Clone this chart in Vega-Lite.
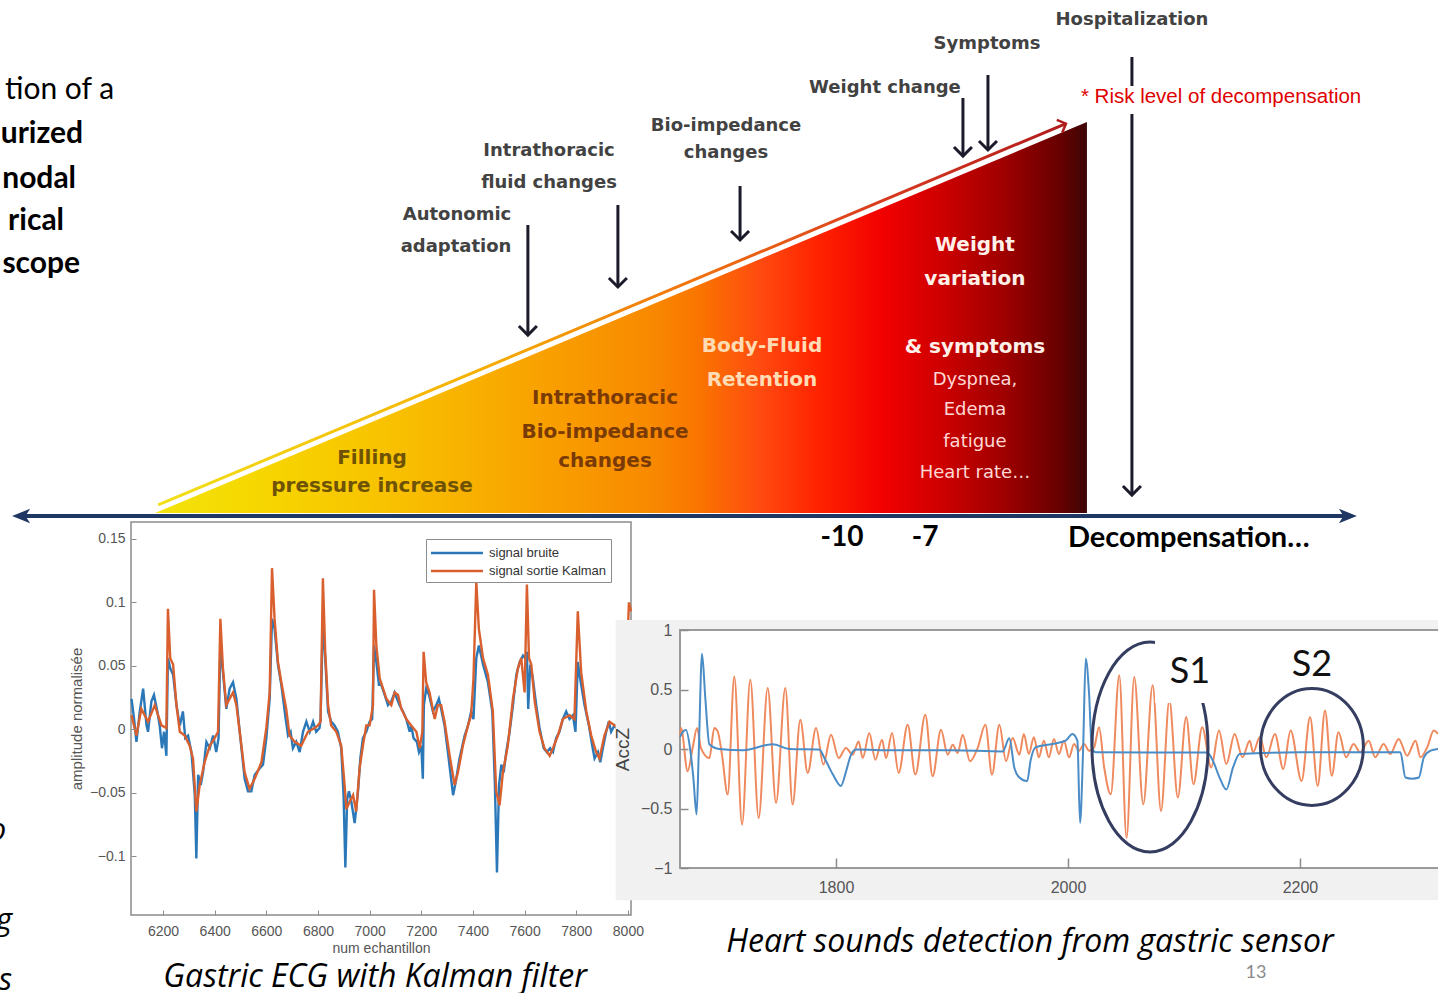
{
  "$schema": "https://vega.github.io/schema/vega-lite/v6.json",
  "width": 1438,
  "height": 993,
  "autosize": "none",
  "padding": 0,
  "background": "white",
  "datasets": {
    "labels": [
      {"kind": "event", "text": "Hospitalization", "day": 0.469, "risk": 1.261},
      {"kind": "event", "text": "Symptoms", "day": -4.765, "risk": 1.1995},
      {"kind": "event", "text": "Weight change", "day": -8.448, "risk": 1.087},
      {"kind": "event", "text": "Bio-impedance", "day": -14.188, "risk": 0.99},
      {"kind": "event", "text": "changes", "day": -14.188, "risk": 0.921},
      {"kind": "event", "text": "Intrathoracic", "day": -20.578, "risk": 0.926},
      {"kind": "event", "text": "fluid changes", "day": -20.578, "risk": 0.844},
      {"kind": "event", "text": "Autonomic", "day": -23.899, "risk": 0.762},
      {"kind": "event", "text": "adaptation", "day": -23.935, "risk": 0.68},
      {"kind": "risk", "text": "* Risk level of decompensation", "day": -1.372, "risk": 1.064},
      {"kind": "stage_yellow", "text": "Filling", "day": -26.968, "risk": 0.141},
      {"kind": "stage_yellow", "text": "pressure  increase", "day": -26.968, "risk": 0.069},
      {"kind": "stage_orange", "text": "Intrathoracic", "day": -18.556, "risk": 0.294},
      {"kind": "stage_orange", "text": "Bio-impedance", "day": -18.556, "risk": 0.207},
      {"kind": "stage_orange", "text": "changes", "day": -18.556, "risk": 0.133},
      {"kind": "stage_fluid", "text": "Body-Fluid", "day": -12.888, "risk": 0.427},
      {"kind": "stage_fluid", "text": "Retention", "day": -12.888, "risk": 0.34},
      {"kind": "stage_late", "text": "Weight", "day": -5.199, "risk": 0.685},
      {"kind": "stage_late", "text": "variation", "day": -5.199, "risk": 0.599},
      {"kind": "stage_late", "text": "& symptoms", "day": -5.199, "risk": 0.425},
      {"kind": "symptom", "text": "Dyspnea,", "day": -5.199, "risk": 0.34},
      {"kind": "symptom", "text": "Edema", "day": -5.199, "risk": 0.263},
      {"kind": "symptom", "text": "fatigue", "day": -5.199, "risk": 0.182},
      {"kind": "symptom", "text": "Heart rate…", "day": -5.199, "risk": 0.102},
      {"kind": "day", "text": "-10", "day": -10, "risk": -0.064},
      {"kind": "day", "text": "-7", "day": -7, "risk": -0.064},
      {"kind": "endpoint", "text": "Decompensation…", "day": -1.841, "risk": -0.064},
      {"kind": "slide_normal", "text": "tion of a", "day": -36.282, "risk": 1.0588},
      {"kind": "slide_bold", "text": "urized", "day": -37.401, "risk": 0.9463},
      {"kind": "slide_bold", "text": "nodal", "day": -37.653, "risk": 0.8312},
      {"kind": "slide_bold", "text": "rical", "day": -38.087, "risk": 0.7238},
      {"kind": "slide_bold", "text": "scope", "day": -37.509, "risk": 0.6138},
      {"kind": "frag", "text": "o", "day": -40.18, "risk": -0.836},
      {"kind": "frag", "text": "g", "day": -39.964, "risk": -1.0665},
      {"kind": "frag", "text": "s", "day": -39.964, "risk": -1.22},
      {"kind": "caption", "text": "Gastric ECG with Kalman filter", "day": -26.859, "risk": -1.1868},
      {"kind": "caption", "text": "Heart sounds detection from gastric sensor", "day": -3.213, "risk": -1.0972},
      {"kind": "page", "text": "13", "day": 4.946, "risk": -1.1765}
    ],
    "wedge": [
      {"day": -34.8, "risk": 0},
      {"day": -1.155, "risk": 1}
    ],
    "trend": [
      {"day": -34.69, "risk": 0.0205},
      {"day": -1.913, "risk": 0.996}
    ],
    "timeline": [
      {"day": -39.675, "day2": 8.303, "risk": -0.0077}
    ],
    "ends": [
      {"day": -39.964, "risk": -0.0077, "dir": "left"},
      {"day": 8.592, "risk": -0.0077, "dir": "right"}
    ],
    "markers": [
      {"event": "Autonomic adaptation", "day": -21.34, "risk": 0.7366, "risk2": 0.4552},
      {"event": "Intrathoracic fluid changes", "day": -18.09, "risk": 0.7877, "risk2": 0.578},
      {"event": "Bio-impedance changes", "day": -13.68, "risk": 0.8363, "risk2": 0.6982},
      {"event": "Weight change", "day": -5.632, "risk": 1.0614, "risk2": 0.913},
      {"event": "Symptoms", "day": -4.729, "risk": 1.1202, "risk2": 0.9284},
      {"event": "Hospitalization", "day": 0.469, "risk": 1.1662, "risk2": 1.092},
      {"event": "Hospitalization", "day": 0.469, "risk": 1.0205, "risk2": 0.046}
    ],
    "ecg_window": [
      {"t": 6076, "t_end": 8012, "v": -0.1465, "v_end": 0.1634}
    ],
    "ecg": [
      {"t": 6078, "v": 0.024, "series": "signal bruite"},
      {"t": 6088, "v": 0.008, "series": "signal bruite"},
      {"t": 6097, "v": -0.01, "series": "signal bruite"},
      {"t": 6110, "v": 0.014, "series": "signal bruite"},
      {"t": 6123, "v": 0.032, "series": "signal bruite"},
      {"t": 6136, "v": 0.003, "series": "signal bruite"},
      {"t": 6142, "v": -0.002, "series": "signal bruite"},
      {"t": 6155, "v": 0.022, "series": "signal bruite"},
      {"t": 6165, "v": 0.027, "series": "signal bruite"},
      {"t": 6178, "v": 0.014, "series": "signal bruite"},
      {"t": 6187, "v": 0.003, "series": "signal bruite"},
      {"t": 6196, "v": -0.015, "series": "signal bruite"},
      {"t": 6204, "v": -0.002, "series": "signal bruite"},
      {"t": 6213, "v": -0.021, "series": "signal bruite"},
      {"t": 6219, "v": 0.056, "series": "signal bruite"},
      {"t": 6228, "v": 0.048, "series": "signal bruite"},
      {"t": 6239, "v": 0.043, "series": "signal bruite"},
      {"t": 6252, "v": 0.019, "series": "signal bruite"},
      {"t": 6265, "v": 0.003, "series": "signal bruite"},
      {"t": 6277, "v": 0.014, "series": "signal bruite"},
      {"t": 6286, "v": -0.007, "series": "signal bruite"},
      {"t": 6297, "v": -0.005, "series": "signal bruite"},
      {"t": 6310, "v": -0.018, "series": "signal bruite"},
      {"t": 6323, "v": -0.052, "series": "signal bruite"},
      {"t": 6329, "v": -0.102, "series": "signal bruite"},
      {"t": 6336, "v": -0.036, "series": "signal bruite"},
      {"t": 6346, "v": -0.044, "series": "signal bruite"},
      {"t": 6355, "v": -0.034, "series": "signal bruite"},
      {"t": 6368, "v": -0.01, "series": "signal bruite"},
      {"t": 6381, "v": -0.015, "series": "signal bruite"},
      {"t": 6394, "v": -0.005, "series": "signal bruite"},
      {"t": 6406, "v": -0.018, "series": "signal bruite"},
      {"t": 6415, "v": -0.007, "series": "signal bruite"},
      {"t": 6422, "v": 0.066, "series": "signal bruite"},
      {"t": 6432, "v": 0.045, "series": "signal bruite"},
      {"t": 6445, "v": 0.016, "series": "signal bruite"},
      {"t": 6458, "v": 0.032, "series": "signal bruite"},
      {"t": 6471, "v": 0.037, "series": "signal bruite"},
      {"t": 6484, "v": 0.024, "series": "signal bruite"},
      {"t": 6497, "v": -0.002, "series": "signal bruite"},
      {"t": 6516, "v": -0.039, "series": "signal bruite"},
      {"t": 6529, "v": -0.049, "series": "signal bruite"},
      {"t": 6542, "v": -0.049, "series": "signal bruite"},
      {"t": 6555, "v": -0.036, "series": "signal bruite"},
      {"t": 6574, "v": -0.031, "series": "signal bruite"},
      {"t": 6587, "v": -0.028, "series": "signal bruite"},
      {"t": 6600, "v": -0.007, "series": "signal bruite"},
      {"t": 6613, "v": 0.024, "series": "signal bruite"},
      {"t": 6622, "v": 0.087, "series": "signal bruite"},
      {"t": 6632, "v": 0.079, "series": "signal bruite"},
      {"t": 6645, "v": 0.051, "series": "signal bruite"},
      {"t": 6658, "v": 0.035, "series": "signal bruite"},
      {"t": 6673, "v": 0.011, "series": "signal bruite"},
      {"t": 6684, "v": -0.005, "series": "signal bruite"},
      {"t": 6694, "v": -0.002, "series": "signal bruite"},
      {"t": 6703, "v": -0.015, "series": "signal bruite"},
      {"t": 6716, "v": -0.01, "series": "signal bruite"},
      {"t": 6729, "v": -0.018, "series": "signal bruite"},
      {"t": 6742, "v": -0.002, "series": "signal bruite"},
      {"t": 6755, "v": 0.006, "series": "signal bruite"},
      {"t": 6768, "v": -0.002, "series": "signal bruite"},
      {"t": 6781, "v": 0.006, "series": "signal bruite"},
      {"t": 6793, "v": -0.002, "series": "signal bruite"},
      {"t": 6806, "v": 0.001, "series": "signal bruite"},
      {"t": 6810, "v": 0.008, "series": "signal bruite"},
      {"t": 6819, "v": 0.087, "series": "signal bruite"},
      {"t": 6828, "v": 0.056, "series": "signal bruite"},
      {"t": 6839, "v": 0.014, "series": "signal bruite"},
      {"t": 6851, "v": 0.006, "series": "signal bruite"},
      {"t": 6864, "v": 0.003, "series": "signal bruite"},
      {"t": 6877, "v": -0.002, "series": "signal bruite"},
      {"t": 6890, "v": -0.015, "series": "signal bruite"},
      {"t": 6899, "v": -0.052, "series": "signal bruite"},
      {"t": 6906, "v": -0.109, "series": "signal bruite"},
      {"t": 6913, "v": -0.055, "series": "signal bruite"},
      {"t": 6920, "v": -0.049, "series": "signal bruite"},
      {"t": 6929, "v": -0.057, "series": "signal bruite"},
      {"t": 6942, "v": -0.074, "series": "signal bruite"},
      {"t": 6955, "v": -0.049, "series": "signal bruite"},
      {"t": 6964, "v": -0.023, "series": "signal bruite"},
      {"t": 6974, "v": -0.007, "series": "signal bruite"},
      {"t": 6987, "v": -0.002, "series": "signal bruite"},
      {"t": 7000, "v": 0.006, "series": "signal bruite"},
      {"t": 7010, "v": 0.008, "series": "signal bruite"},
      {"t": 7017, "v": 0.066, "series": "signal bruite"},
      {"t": 7026, "v": 0.053, "series": "signal bruite"},
      {"t": 7036, "v": 0.035, "series": "signal bruite"},
      {"t": 7045, "v": 0.035, "series": "signal bruite"},
      {"t": 7058, "v": 0.027, "series": "signal bruite"},
      {"t": 7071, "v": 0.019, "series": "signal bruite"},
      {"t": 7084, "v": 0.022, "series": "signal bruite"},
      {"t": 7097, "v": 0.029, "series": "signal bruite"},
      {"t": 7106, "v": 0.024, "series": "signal bruite"},
      {"t": 7116, "v": 0.019, "series": "signal bruite"},
      {"t": 7129, "v": 0.014, "series": "signal bruite"},
      {"t": 7142, "v": 0.008, "series": "signal bruite"},
      {"t": 7155, "v": -0.002, "series": "signal bruite"},
      {"t": 7161, "v": 0.003, "series": "signal bruite"},
      {"t": 7170, "v": -0.007, "series": "signal bruite"},
      {"t": 7183, "v": -0.01, "series": "signal bruite"},
      {"t": 7191, "v": -0.018, "series": "signal bruite"},
      {"t": 7200, "v": -0.013, "series": "signal bruite"},
      {"t": 7206, "v": -0.039, "series": "signal bruite"},
      {"t": 7210, "v": 0.019, "series": "signal bruite"},
      {"t": 7219, "v": 0.032, "series": "signal bruite"},
      {"t": 7230, "v": 0.027, "series": "signal bruite"},
      {"t": 7245, "v": 0.014, "series": "signal bruite"},
      {"t": 7258, "v": 0.019, "series": "signal bruite"},
      {"t": 7268, "v": 0.024, "series": "signal bruite"},
      {"t": 7277, "v": 0.016, "series": "signal bruite"},
      {"t": 7290, "v": 0.003, "series": "signal bruite"},
      {"t": 7303, "v": -0.018, "series": "signal bruite"},
      {"t": 7323, "v": -0.052, "series": "signal bruite"},
      {"t": 7333, "v": -0.042, "series": "signal bruite"},
      {"t": 7348, "v": -0.023, "series": "signal bruite"},
      {"t": 7368, "v": -0.005, "series": "signal bruite"},
      {"t": 7381, "v": 0.003, "series": "signal bruite"},
      {"t": 7393, "v": 0.014, "series": "signal bruite"},
      {"t": 7402, "v": 0.008, "series": "signal bruite"},
      {"t": 7413, "v": 0.056, "series": "signal bruite"},
      {"t": 7423, "v": 0.066, "series": "signal bruite"},
      {"t": 7439, "v": 0.051, "series": "signal bruite"},
      {"t": 7458, "v": 0.037, "series": "signal bruite"},
      {"t": 7475, "v": 0.014, "series": "signal bruite"},
      {"t": 7485, "v": -0.044, "series": "signal bruite"},
      {"t": 7493, "v": -0.113, "series": "signal bruite"},
      {"t": 7501, "v": -0.044, "series": "signal bruite"},
      {"t": 7510, "v": -0.028, "series": "signal bruite"},
      {"t": 7519, "v": -0.034, "series": "signal bruite"},
      {"t": 7529, "v": -0.018, "series": "signal bruite"},
      {"t": 7542, "v": -0.002, "series": "signal bruite"},
      {"t": 7555, "v": 0.019, "series": "signal bruite"},
      {"t": 7568, "v": 0.043, "series": "signal bruite"},
      {"t": 7581, "v": 0.053, "series": "signal bruite"},
      {"t": 7594, "v": 0.058, "series": "signal bruite"},
      {"t": 7603, "v": 0.056, "series": "signal bruite"},
      {"t": 7609, "v": 0.061, "series": "signal bruite"},
      {"t": 7614, "v": 0.016, "series": "signal bruite"},
      {"t": 7622, "v": 0.051, "series": "signal bruite"},
      {"t": 7632, "v": 0.04, "series": "signal bruite"},
      {"t": 7645, "v": 0.019, "series": "signal bruite"},
      {"t": 7658, "v": 0.001, "series": "signal bruite"},
      {"t": 7674, "v": -0.015, "series": "signal bruite"},
      {"t": 7686, "v": -0.018, "series": "signal bruite"},
      {"t": 7699, "v": -0.015, "series": "signal bruite"},
      {"t": 7710, "v": -0.018, "series": "signal bruite"},
      {"t": 7722, "v": -0.007, "series": "signal bruite"},
      {"t": 7735, "v": -0.002, "series": "signal bruite"},
      {"t": 7748, "v": 0.008, "series": "signal bruite"},
      {"t": 7761, "v": 0.014, "series": "signal bruite"},
      {"t": 7774, "v": 0.008, "series": "signal bruite"},
      {"t": 7787, "v": 0.011, "series": "signal bruite"},
      {"t": 7797, "v": -0.002, "series": "signal bruite"},
      {"t": 7806, "v": 0.053, "series": "signal bruite"},
      {"t": 7815, "v": 0.04, "series": "signal bruite"},
      {"t": 7832, "v": 0.019, "series": "signal bruite"},
      {"t": 7849, "v": 0.003, "series": "signal bruite"},
      {"t": 7862, "v": -0.013, "series": "signal bruite"},
      {"t": 7871, "v": -0.023, "series": "signal bruite"},
      {"t": 7884, "v": -0.018, "series": "signal bruite"},
      {"t": 7893, "v": -0.026, "series": "signal bruite"},
      {"t": 7903, "v": -0.015, "series": "signal bruite"},
      {"t": 7916, "v": -0.002, "series": "signal bruite"},
      {"t": 7926, "v": 0.006, "series": "signal bruite"},
      {"t": 7935, "v": -0.002, "series": "signal bruite"},
      {"t": 7948, "v": 0.003, "series": "signal bruite"},
      {"t": 7968, "v": -0.002, "series": "signal bruite"},
      {"t": 7987, "v": 0.004, "series": "signal bruite"},
      {"t": 8004, "v": 0.019, "series": "signal bruite"},
      {"t": 8012, "v": 0.008, "series": "signal bruite"},
      {"t": 6078, "v": 0.011, "series": "signal sortie Kalman"},
      {"t": 6097, "v": -0.005, "series": "signal sortie Kalman"},
      {"t": 6116, "v": 0.016, "series": "signal sortie Kalman"},
      {"t": 6142, "v": 0.006, "series": "signal sortie Kalman"},
      {"t": 6168, "v": 0.019, "series": "signal sortie Kalman"},
      {"t": 6194, "v": 0.003, "series": "signal sortie Kalman"},
      {"t": 6213, "v": 0.001, "series": "signal sortie Kalman"},
      {"t": 6219, "v": 0.095, "series": "signal sortie Kalman"},
      {"t": 6228, "v": 0.056, "series": "signal sortie Kalman"},
      {"t": 6239, "v": 0.051, "series": "signal sortie Kalman"},
      {"t": 6252, "v": 0.019, "series": "signal sortie Kalman"},
      {"t": 6265, "v": -0.002, "series": "signal sortie Kalman"},
      {"t": 6284, "v": -0.005, "series": "signal sortie Kalman"},
      {"t": 6303, "v": -0.013, "series": "signal sortie Kalman"},
      {"t": 6316, "v": -0.023, "series": "signal sortie Kalman"},
      {"t": 6329, "v": -0.065, "series": "signal sortie Kalman"},
      {"t": 6342, "v": -0.044, "series": "signal sortie Kalman"},
      {"t": 6361, "v": -0.026, "series": "signal sortie Kalman"},
      {"t": 6381, "v": -0.013, "series": "signal sortie Kalman"},
      {"t": 6400, "v": -0.007, "series": "signal sortie Kalman"},
      {"t": 6413, "v": -0.002, "series": "signal sortie Kalman"},
      {"t": 6422, "v": 0.087, "series": "signal sortie Kalman"},
      {"t": 6432, "v": 0.048, "series": "signal sortie Kalman"},
      {"t": 6445, "v": 0.019, "series": "signal sortie Kalman"},
      {"t": 6458, "v": 0.024, "series": "signal sortie Kalman"},
      {"t": 6471, "v": 0.029, "series": "signal sortie Kalman"},
      {"t": 6484, "v": 0.019, "series": "signal sortie Kalman"},
      {"t": 6497, "v": -0.002, "series": "signal sortie Kalman"},
      {"t": 6516, "v": -0.034, "series": "signal sortie Kalman"},
      {"t": 6535, "v": -0.047, "series": "signal sortie Kalman"},
      {"t": 6555, "v": -0.039, "series": "signal sortie Kalman"},
      {"t": 6581, "v": -0.026, "series": "signal sortie Kalman"},
      {"t": 6600, "v": 0.001, "series": "signal sortie Kalman"},
      {"t": 6613, "v": 0.029, "series": "signal sortie Kalman"},
      {"t": 6622, "v": 0.127, "series": "signal sortie Kalman"},
      {"t": 6632, "v": 0.087, "series": "signal sortie Kalman"},
      {"t": 6645, "v": 0.053, "series": "signal sortie Kalman"},
      {"t": 6658, "v": 0.037, "series": "signal sortie Kalman"},
      {"t": 6677, "v": 0.016, "series": "signal sortie Kalman"},
      {"t": 6690, "v": -0.005, "series": "signal sortie Kalman"},
      {"t": 6710, "v": -0.01, "series": "signal sortie Kalman"},
      {"t": 6735, "v": -0.013, "series": "signal sortie Kalman"},
      {"t": 6761, "v": -0.002, "series": "signal sortie Kalman"},
      {"t": 6787, "v": 0.001, "series": "signal sortie Kalman"},
      {"t": 6800, "v": 0.003, "series": "signal sortie Kalman"},
      {"t": 6810, "v": 0.006, "series": "signal sortie Kalman"},
      {"t": 6819, "v": 0.119, "series": "signal sortie Kalman"},
      {"t": 6828, "v": 0.061, "series": "signal sortie Kalman"},
      {"t": 6839, "v": 0.019, "series": "signal sortie Kalman"},
      {"t": 6851, "v": 0.003, "series": "signal sortie Kalman"},
      {"t": 6871, "v": -0.002, "series": "signal sortie Kalman"},
      {"t": 6890, "v": -0.013, "series": "signal sortie Kalman"},
      {"t": 6903, "v": -0.044, "series": "signal sortie Kalman"},
      {"t": 6910, "v": -0.063, "series": "signal sortie Kalman"},
      {"t": 6923, "v": -0.057, "series": "signal sortie Kalman"},
      {"t": 6936, "v": -0.052, "series": "signal sortie Kalman"},
      {"t": 6948, "v": -0.065, "series": "signal sortie Kalman"},
      {"t": 6961, "v": -0.031, "series": "signal sortie Kalman"},
      {"t": 6974, "v": -0.013, "series": "signal sortie Kalman"},
      {"t": 6987, "v": 0.003, "series": "signal sortie Kalman"},
      {"t": 7000, "v": 0.003, "series": "signal sortie Kalman"},
      {"t": 7013, "v": 0.019, "series": "signal sortie Kalman"},
      {"t": 7017, "v": 0.11, "series": "signal sortie Kalman"},
      {"t": 7026, "v": 0.066, "series": "signal sortie Kalman"},
      {"t": 7039, "v": 0.04, "series": "signal sortie Kalman"},
      {"t": 7052, "v": 0.032, "series": "signal sortie Kalman"},
      {"t": 7065, "v": 0.024, "series": "signal sortie Kalman"},
      {"t": 7084, "v": 0.019, "series": "signal sortie Kalman"},
      {"t": 7097, "v": 0.029, "series": "signal sortie Kalman"},
      {"t": 7110, "v": 0.027, "series": "signal sortie Kalman"},
      {"t": 7123, "v": 0.016, "series": "signal sortie Kalman"},
      {"t": 7142, "v": 0.008, "series": "signal sortie Kalman"},
      {"t": 7161, "v": 0.003, "series": "signal sortie Kalman"},
      {"t": 7181, "v": -0.002, "series": "signal sortie Kalman"},
      {"t": 7194, "v": -0.015, "series": "signal sortie Kalman"},
      {"t": 7204, "v": -0.002, "series": "signal sortie Kalman"},
      {"t": 7209, "v": 0.061, "series": "signal sortie Kalman"},
      {"t": 7219, "v": 0.037, "series": "signal sortie Kalman"},
      {"t": 7232, "v": 0.029, "series": "signal sortie Kalman"},
      {"t": 7252, "v": 0.008, "series": "signal sortie Kalman"},
      {"t": 7264, "v": 0.019, "series": "signal sortie Kalman"},
      {"t": 7277, "v": 0.019, "series": "signal sortie Kalman"},
      {"t": 7290, "v": 0.006, "series": "signal sortie Kalman"},
      {"t": 7310, "v": -0.021, "series": "signal sortie Kalman"},
      {"t": 7329, "v": -0.044, "series": "signal sortie Kalman"},
      {"t": 7342, "v": -0.034, "series": "signal sortie Kalman"},
      {"t": 7361, "v": -0.013, "series": "signal sortie Kalman"},
      {"t": 7381, "v": 0.003, "series": "signal sortie Kalman"},
      {"t": 7393, "v": 0.011, "series": "signal sortie Kalman"},
      {"t": 7402, "v": 0.04, "series": "signal sortie Kalman"},
      {"t": 7413, "v": 0.116, "series": "signal sortie Kalman"},
      {"t": 7423, "v": 0.079, "series": "signal sortie Kalman"},
      {"t": 7439, "v": 0.056, "series": "signal sortie Kalman"},
      {"t": 7458, "v": 0.043, "series": "signal sortie Kalman"},
      {"t": 7477, "v": 0.014, "series": "signal sortie Kalman"},
      {"t": 7490, "v": -0.049, "series": "signal sortie Kalman"},
      {"t": 7503, "v": -0.06, "series": "signal sortie Kalman"},
      {"t": 7516, "v": -0.034, "series": "signal sortie Kalman"},
      {"t": 7535, "v": -0.013, "series": "signal sortie Kalman"},
      {"t": 7555, "v": 0.024, "series": "signal sortie Kalman"},
      {"t": 7574, "v": 0.048, "series": "signal sortie Kalman"},
      {"t": 7587, "v": 0.056, "series": "signal sortie Kalman"},
      {"t": 7600, "v": 0.029, "series": "signal sortie Kalman"},
      {"t": 7609, "v": 0.114, "series": "signal sortie Kalman"},
      {"t": 7617, "v": 0.056, "series": "signal sortie Kalman"},
      {"t": 7626, "v": 0.051, "series": "signal sortie Kalman"},
      {"t": 7639, "v": 0.022, "series": "signal sortie Kalman"},
      {"t": 7658, "v": -0.002, "series": "signal sortie Kalman"},
      {"t": 7677, "v": -0.015, "series": "signal sortie Kalman"},
      {"t": 7697, "v": -0.021, "series": "signal sortie Kalman"},
      {"t": 7710, "v": -0.015, "series": "signal sortie Kalman"},
      {"t": 7729, "v": -0.005, "series": "signal sortie Kalman"},
      {"t": 7748, "v": 0.008, "series": "signal sortie Kalman"},
      {"t": 7774, "v": 0.011, "series": "signal sortie Kalman"},
      {"t": 7793, "v": 0.008, "series": "signal sortie Kalman"},
      {"t": 7806, "v": 0.093, "series": "signal sortie Kalman"},
      {"t": 7819, "v": 0.045, "series": "signal sortie Kalman"},
      {"t": 7839, "v": 0.014, "series": "signal sortie Kalman"},
      {"t": 7858, "v": -0.005, "series": "signal sortie Kalman"},
      {"t": 7877, "v": -0.018, "series": "signal sortie Kalman"},
      {"t": 7890, "v": -0.023, "series": "signal sortie Kalman"},
      {"t": 7909, "v": -0.005, "series": "signal sortie Kalman"},
      {"t": 7929, "v": 0.006, "series": "signal sortie Kalman"},
      {"t": 7948, "v": 0.003, "series": "signal sortie Kalman"},
      {"t": 7968, "v": 0.001, "series": "signal sortie Kalman"},
      {"t": 7987, "v": 0.006, "series": "signal sortie Kalman"},
      {"t": 8004, "v": 0.1, "series": "signal sortie Kalman"},
      {"t": 8012, "v": 0.093, "series": "signal sortie Kalman"}
    ],
    "heart_panel": [
      {"t": 1610, "t_end": 2330, "v": -1.27, "v_end": 1.084}
    ],
    "heart_window": [
      {"t": 1665.5, "t_end": 2330, "v": -1, "v_end": 1}
    ],
    "heart": [
      {"t": 1665.5, "v": 0.1, "series": "filtered"},
      {"t": 1666.4, "v": 0.176, "series": "filtered"},
      {"t": 1672.1, "v": -0.187, "series": "filtered"},
      {"t": 1676.4, "v": 0.008, "series": "filtered"},
      {"t": 1680.2, "v": 0.176, "series": "filtered"},
      {"t": 1683.6, "v": 0.008, "series": "filtered"},
      {"t": 1690.8, "v": -0.076, "series": "filtered"},
      {"t": 1695.1, "v": 0.176, "series": "filtered"},
      {"t": 1698, "v": 0.148, "series": "filtered"},
      {"t": 1701.7, "v": -0.048, "series": "filtered"},
      {"t": 1706.6, "v": -0.383, "series": "filtered"},
      {"t": 1712.3, "v": 0.61, "series": "filtered"},
      {"t": 1719, "v": -0.635, "series": "filtered"},
      {"t": 1726.1, "v": 0.582, "series": "filtered"},
      {"t": 1733.3, "v": -0.579, "series": "filtered"},
      {"t": 1741.1, "v": 0.512, "series": "filtered"},
      {"t": 1748.3, "v": -0.453, "series": "filtered"},
      {"t": 1756.3, "v": 0.512, "series": "filtered"},
      {"t": 1762.6, "v": -0.467, "series": "filtered"},
      {"t": 1769.2, "v": 0.246, "series": "filtered"},
      {"t": 1775.6, "v": -0.201, "series": "filtered"},
      {"t": 1782.8, "v": 0.176, "series": "filtered"},
      {"t": 1789.1, "v": -0.131, "series": "filtered"},
      {"t": 1795.7, "v": 0.12, "series": "filtered"},
      {"t": 1802.3, "v": -0.076, "series": "filtered"},
      {"t": 1808.6, "v": 0.008, "series": "filtered"},
      {"t": 1814.4, "v": -0.048, "series": "filtered"},
      {"t": 1819.5, "v": 0.064, "series": "filtered"},
      {"t": 1823, "v": -0.076, "series": "filtered"},
      {"t": 1828.7, "v": 0.134, "series": "filtered"},
      {"t": 1833.9, "v": -0.09, "series": "filtered"},
      {"t": 1839.7, "v": 0.078, "series": "filtered"},
      {"t": 1843.1, "v": -0.076, "series": "filtered"},
      {"t": 1848.3, "v": 0.134, "series": "filtered"},
      {"t": 1854, "v": -0.201, "series": "filtered"},
      {"t": 1861.8, "v": 0.204, "series": "filtered"},
      {"t": 1868.4, "v": -0.215, "series": "filtered"},
      {"t": 1877, "v": 0.288, "series": "filtered"},
      {"t": 1883.3, "v": -0.229, "series": "filtered"},
      {"t": 1890.5, "v": 0.162, "series": "filtered"},
      {"t": 1896.3, "v": -0.048, "series": "filtered"},
      {"t": 1900.6, "v": 0.036, "series": "filtered"},
      {"t": 1904.9, "v": -0.034, "series": "filtered"},
      {"t": 1909.2, "v": 0.12, "series": "filtered"},
      {"t": 1915.5, "v": -0.103, "series": "filtered"},
      {"t": 1922.1, "v": 0.008, "series": "filtered"},
      {"t": 1928.8, "v": 0.204, "series": "filtered"},
      {"t": 1934.5, "v": -0.215, "series": "filtered"},
      {"t": 1940.8, "v": 0.204, "series": "filtered"},
      {"t": 1946.6, "v": -0.103, "series": "filtered"},
      {"t": 1952.3, "v": 0.092, "series": "filtered"},
      {"t": 1958.1, "v": -0.048, "series": "filtered"},
      {"t": 1961.9, "v": 0.127, "series": "filtered"},
      {"t": 1966.2, "v": -0.042, "series": "filtered"},
      {"t": 1970.6, "v": 0.099, "series": "filtered"},
      {"t": 1974.9, "v": -0.07, "series": "filtered"},
      {"t": 1979.2, "v": 0.07, "series": "filtered"},
      {"t": 1983.5, "v": -0.07, "series": "filtered"},
      {"t": 1987.9, "v": 0.085, "series": "filtered"},
      {"t": 1992.2, "v": -0.042, "series": "filtered"},
      {"t": 1996.5, "v": 0.07, "series": "filtered"},
      {"t": 2000.9, "v": -0.07, "series": "filtered"},
      {"t": 2005.2, "v": 0.042, "series": "filtered"},
      {"t": 2009.5, "v": -0.014, "series": "filtered"},
      {"t": 2013.9, "v": 0.042, "series": "filtered"},
      {"t": 2018.2, "v": -0.014, "series": "filtered"},
      {"t": 2022.5, "v": 0.014, "series": "filtered"},
      {"t": 2026.8, "v": 0.183, "series": "filtered"},
      {"t": 2031.2, "v": -0.155, "series": "filtered"},
      {"t": 2036.9, "v": -0.38, "series": "filtered"},
      {"t": 2044.2, "v": 0.62, "series": "filtered"},
      {"t": 2050.5, "v": -0.746, "series": "filtered"},
      {"t": 2057.1, "v": 0.606, "series": "filtered"},
      {"t": 2064.9, "v": -0.465, "series": "filtered"},
      {"t": 2073, "v": 0.535, "series": "filtered"},
      {"t": 2080.2, "v": -0.521, "series": "filtered"},
      {"t": 2087.4, "v": 0.408, "series": "filtered"},
      {"t": 2094.7, "v": -0.408, "series": "filtered"},
      {"t": 2101.9, "v": 0.268, "series": "filtered"},
      {"t": 2108.2, "v": -0.296, "series": "filtered"},
      {"t": 2115.7, "v": 0.183, "series": "filtered"},
      {"t": 2123.5, "v": -0.155, "series": "filtered"},
      {"t": 2130.2, "v": 0.155, "series": "filtered"},
      {"t": 2136.5, "v": -0.127, "series": "filtered"},
      {"t": 2143.7, "v": 0.127, "series": "filtered"},
      {"t": 2150.4, "v": -0.07, "series": "filtered"},
      {"t": 2156.7, "v": 0.07, "series": "filtered"},
      {"t": 2159.6, "v": -0.028, "series": "filtered"},
      {"t": 2165.4, "v": 0.099, "series": "filtered"},
      {"t": 2171.1, "v": -0.07, "series": "filtered"},
      {"t": 2178.4, "v": 0.127, "series": "filtered"},
      {"t": 2185.6, "v": -0.169, "series": "filtered"},
      {"t": 2191.9, "v": 0.155, "series": "filtered"},
      {"t": 2201.4, "v": -0.268, "series": "filtered"},
      {"t": 2208.7, "v": 0.268, "series": "filtered"},
      {"t": 2215.3, "v": -0.31, "series": "filtered"},
      {"t": 2221.6, "v": 0.324, "series": "filtered"},
      {"t": 2227.4, "v": -0.225, "series": "filtered"},
      {"t": 2233.2, "v": 0.141, "series": "filtered"},
      {"t": 2239.8, "v": -0.07, "series": "filtered"},
      {"t": 2246.2, "v": 0.042, "series": "filtered"},
      {"t": 2252, "v": -0.028, "series": "filtered"},
      {"t": 2259.2, "v": 0.07, "series": "filtered"},
      {"t": 2264.9, "v": -0.07, "series": "filtered"},
      {"t": 2272.1, "v": 0.042, "series": "filtered"},
      {"t": 2277.9, "v": -0.042, "series": "filtered"},
      {"t": 2285.1, "v": 0.085, "series": "filtered"},
      {"t": 2292.4, "v": -0.056, "series": "filtered"},
      {"t": 2299.6, "v": 0.07, "series": "filtered"},
      {"t": 2303.9, "v": -0.07, "series": "filtered"},
      {"t": 2309.7, "v": 0.014, "series": "filtered"},
      {"t": 2315.4, "v": 0.155, "series": "filtered"},
      {"t": 2319, "v": 0.127, "series": "filtered"},
      {"t": 1665.5, "v": 0.1, "series": "raw"},
      {"t": 1666.4, "v": 0.12, "series": "raw"},
      {"t": 1670.7, "v": 0.16, "series": "raw"},
      {"t": 1674.1, "v": 0.01, "series": "raw"},
      {"t": 1677, "v": -0.24, "series": "raw"},
      {"t": 1679.8, "v": -0.55, "series": "raw"},
      {"t": 1681.6, "v": -0.05, "series": "raw"},
      {"t": 1684.5, "v": 0.8, "series": "raw"},
      {"t": 1687.3, "v": 0.43, "series": "raw"},
      {"t": 1690.8, "v": 0.04, "series": "raw"},
      {"t": 1699.4, "v": 0.0, "series": "raw"},
      {"t": 1720, "v": -0.01, "series": "raw"},
      {"t": 1745.4, "v": 0.04, "series": "raw"},
      {"t": 1760, "v": 0.0, "series": "raw"},
      {"t": 1785.6, "v": -0.005, "series": "raw"},
      {"t": 1790, "v": -0.075, "series": "raw"},
      {"t": 1797.1, "v": -0.21, "series": "raw"},
      {"t": 1804.3, "v": -0.31, "series": "raw"},
      {"t": 1808.6, "v": -0.19, "series": "raw"},
      {"t": 1812.9, "v": -0.05, "series": "raw"},
      {"t": 1817.2, "v": -0.005, "series": "raw"},
      {"t": 1850, "v": -0.01, "series": "raw"},
      {"t": 1900, "v": -0.01, "series": "raw"},
      {"t": 1943.7, "v": -0.02, "series": "raw"},
      {"t": 1949.4, "v": 0.09, "series": "raw"},
      {"t": 1953.8, "v": -0.16, "series": "raw"},
      {"t": 1958.1, "v": -0.24, "series": "raw"},
      {"t": 1964.8, "v": -0.27, "series": "raw"},
      {"t": 1967.7, "v": -0.1, "series": "raw"},
      {"t": 1972, "v": 0.014, "series": "raw"},
      {"t": 1986.4, "v": 0.042, "series": "raw"},
      {"t": 1998, "v": 0.07, "series": "raw"},
      {"t": 2003.8, "v": 0.127, "series": "raw"},
      {"t": 2008.1, "v": 0.07, "series": "raw"},
      {"t": 2010.4, "v": -0.62, "series": "raw"},
      {"t": 2013, "v": -0.014, "series": "raw"},
      {"t": 2015.3, "v": 0.76, "series": "raw"},
      {"t": 2018.2, "v": 0.46, "series": "raw"},
      {"t": 2020.5, "v": 0.014, "series": "raw"},
      {"t": 2024, "v": -0.028, "series": "raw"},
      {"t": 2120, "v": -0.03, "series": "raw"},
      {"t": 2125, "v": -0.1, "series": "raw"},
      {"t": 2130.7, "v": -0.24, "series": "raw"},
      {"t": 2136.5, "v": -0.34, "series": "raw"},
      {"t": 2142.3, "v": -0.155, "series": "raw"},
      {"t": 2148, "v": -0.042, "series": "raw"},
      {"t": 2200, "v": -0.028, "series": "raw"},
      {"t": 2286.6, "v": -0.028, "series": "raw"},
      {"t": 2290.9, "v": -0.24, "series": "raw"},
      {"t": 2296.7, "v": -0.25, "series": "raw"},
      {"t": 2302.5, "v": -0.24, "series": "raw"},
      {"t": 2306.8, "v": -0.07, "series": "raw"},
      {"t": 2312.6, "v": -0.014, "series": "raw"},
      {"t": 2319, "v": 0.0, "series": "raw"}
    ],
    "sounds": [
      {"name": "S1", "t": 2070.7, "v": 0.017},
      {"name": "S2", "t": 2210.3, "v": 0.017}
    ],
    "sound_labels": [
      {"name": "S1", "t": 2105.2, "v": 0.647},
      {"name": "S2", "t": 2210.3, "v": 0.706}
    ],
    "label_box": [
      {"t": 2075, "t_end": 2120.7, "v": 0.387, "v_end": 0.908}
    ]
  },
  "layer": [
    {
      "encoding": {
        "x": {"field": "day", "type": "quantitative", "scale": {"domain": [-40.4, 11.52], "nice": false, "zero": false}, "axis": null},
        "y": {"field": "risk", "type": "quantitative", "scale": {"domain": [-1.2276, 1.312], "nice": false, "zero": false}, "axis": null}
      },
      "layer": [
        {
          "data": {"name": "wedge"},
          "mark": {
            "type": "area",
            "fill": {
              "gradient": "linear", "x1": 0, "y1": 0, "x2": 1, "y2": 0,
              "stops": [
                {"offset": 0, "color": "#f3e30c"},
                {"offset": 0.1, "color": "#f6d800"},
                {"offset": 0.26, "color": "#f8c000"},
                {"offset": 0.42, "color": "#f9a000"},
                {"offset": 0.53, "color": "#f88a00"},
                {"offset": 0.585, "color": "#fa7400"},
                {"offset": 0.65, "color": "#ff4a10"},
                {"offset": 0.71, "color": "#ff2400"},
                {"offset": 0.78, "color": "#f20000"},
                {"offset": 0.84, "color": "#d00000"},
                {"offset": 0.91, "color": "#a00000"},
                {"offset": 0.97, "color": "#680000"},
                {"offset": 1, "color": "#3e0505"}
              ]
            }
          },
          "encoding": {"y2": {"datum": 0}}
        },
        {
          "data": {"name": "trend"},
          "mark": {
            "type": "line",
            "strokeWidth": 3,
            "stroke": {
              "gradient": "linear", "x1": 0, "y1": 0, "x2": 1, "y2": 0,
              "stops": [
                {"offset": 0, "color": "#f2e01a"},
                {"offset": 0.35, "color": "#f5b000"},
                {"offset": 0.6, "color": "#f07010"},
                {"offset": 0.8, "color": "#d83a20"},
                {"offset": 1, "color": "#b01c1c"}
              ]
            }
          },
          "encoding": {}
        },
        {
          "data": {"name": "trend"},
          "transform": [{"filter": "datum.risk > 0.5"}],
          "mark": {"type": "point", "shape": "M-1,-1L0,0L-1,1", "size": 196, "angle": -22.7, "filled": false, "stroke": "#b01c1c", "strokeWidth": 2.5, "opacity": 1}
        },
        {
          "data": {"name": "timeline"},
          "mark": {"type": "rule", "color": "#1f3763", "strokeWidth": 4},
          "encoding": {"x2": {"field": "day2"}}
        },
        {
          "data": {"name": "ends"},
          "mark": {"type": "point", "filled": true, "opacity": 1, "color": "#1f3763", "size": 324},
          "encoding": {
            "shape": {"field": "dir", "type": "nominal", "scale": {"domain": ["left", "right"], "range": ["M0,0L2,-0.8L1.5,0L2,0.8Z", "M0,0L-2,-0.8L-1.5,0L-2,0.8Z"]}, "legend": null}
          }
        },
        {
          "data": {"name": "markers"},
          "mark": {"type": "rule", "color": "#1b1b2b", "strokeWidth": 3},
          "encoding": {"y2": {"field": "risk2"}}
        },
        {
          "data": {"name": "markers"},
          "transform": [{"filter": "datum.risk2 < 1.05"}],
          "mark": {"type": "point", "shape": "M-1,-1L0,0L1,-1", "size": 324, "filled": false, "stroke": "#1b1b2b", "strokeWidth": 3, "opacity": 1},
          "encoding": {"y": {"field": "risk2", "type": "quantitative"}}
        },
        {
          "data": {"name": "labels"},
          "transform": [{"filter": "datum.kind === 'event'"}],
          "mark": {"type": "text", "font": "DejaVu Sans", "fontWeight": "bold", "fontSize": 18, "color": "#424242", "align": "center", "baseline": "middle"},
          "encoding": {"text": {"field": "text"}}
        },
        {
          "data": {"name": "labels"},
          "transform": [{"filter": "datum.kind === 'risk'"}],
          "mark": {"type": "text", "font": "Liberation Sans", "fontSize": 20.5, "color": "#e00000", "align": "left", "baseline": "middle"},
          "encoding": {"text": {"field": "text"}}
        },
        {
          "data": {"name": "labels"},
          "transform": [{"filter": "datum.kind === 'stage_yellow'"}],
          "mark": {"type": "text", "font": "DejaVu Sans", "fontWeight": "bold", "fontSize": 20, "color": "#6e5206", "align": "center", "baseline": "middle"},
          "encoding": {"text": {"field": "text"}}
        },
        {
          "data": {"name": "labels"},
          "transform": [{"filter": "datum.kind === 'stage_orange'"}],
          "mark": {"type": "text", "font": "DejaVu Sans", "fontWeight": "bold", "fontSize": 20, "color": "#7a3a06", "align": "center", "baseline": "middle"},
          "encoding": {"text": {"field": "text"}}
        },
        {
          "data": {"name": "labels"},
          "transform": [{"filter": "datum.kind === 'stage_fluid'"}],
          "mark": {"type": "text", "font": "DejaVu Sans", "fontWeight": "bold", "fontSize": 20, "color": "#ffdcb4", "align": "center", "baseline": "middle"},
          "encoding": {"text": {"field": "text"}}
        },
        {
          "data": {"name": "labels"},
          "transform": [{"filter": "datum.kind === 'stage_late'"}],
          "mark": {"type": "text", "font": "DejaVu Sans", "fontWeight": "bold", "fontSize": 20, "color": "#fff0ea", "align": "center", "baseline": "middle"},
          "encoding": {"text": {"field": "text"}}
        },
        {
          "data": {"name": "labels"},
          "transform": [{"filter": "datum.kind === 'symptom'"}],
          "mark": {"type": "text", "font": "DejaVu Sans", "fontSize": 18, "color": "#ffd8d4", "align": "center", "baseline": "middle"},
          "encoding": {"text": {"field": "text"}}
        },
        {
          "data": {"name": "labels"},
          "transform": [{"filter": "datum.kind === 'day'"}],
          "mark": {"type": "text", "font": "Lato", "fontWeight": "bold", "fontSize": 28, "color": "#000000", "align": "center", "baseline": "middle"},
          "encoding": {"text": {"field": "text"}}
        },
        {
          "data": {"name": "labels"},
          "transform": [{"filter": "datum.kind === 'endpoint'"}],
          "mark": {"type": "text", "font": "Lato", "fontWeight": "bold", "fontSize": 29, "color": "#000000", "align": "left", "baseline": "middle"},
          "encoding": {"text": {"field": "text"}}
        },
        {
          "data": {"name": "labels"},
          "transform": [{"filter": "datum.kind === 'slide_normal'"}],
          "mark": {"type": "text", "font": "Lato", "fontSize": 30, "color": "#000000", "align": "right", "baseline": "alphabetic"},
          "encoding": {"text": {"field": "text"}}
        },
        {
          "data": {"name": "labels"},
          "transform": [{"filter": "datum.kind === 'slide_bold'"}],
          "mark": {"type": "text", "font": "Lato", "fontWeight": "bold", "fontSize": 30, "color": "#000000", "align": "right", "baseline": "alphabetic"},
          "encoding": {"text": {"field": "text"}}
        },
        {
          "data": {"name": "labels"},
          "transform": [{"filter": "datum.kind === 'frag'"}],
          "mark": {"type": "text", "font": "Open Sans", "fontStyle": "italic", "fontSize": 31, "color": "#000000", "align": "right", "baseline": "alphabetic"},
          "encoding": {"text": {"field": "text"}}
        },
        {
          "data": {"name": "labels"},
          "transform": [{"filter": "datum.kind === 'caption'"}],
          "mark": {"type": "text", "font": "Open Sans", "fontStyle": "italic", "fontSize": 32, "color": "#000000", "align": "center", "baseline": "middle"},
          "encoding": {"text": {"field": "text"}}
        },
        {
          "data": {"name": "labels"},
          "transform": [{"filter": "datum.kind === 'page'"}],
          "mark": {"type": "text", "font": "Lato", "fontSize": 18, "color": "#8a8a8a", "align": "center", "baseline": "middle"},
          "encoding": {"text": {"field": "text"}}
        }
      ]
    },
    {
      "encoding": {
        "x": {
          "field": "t", "type": "quantitative",
          "scale": {"domain": [6076, 8012], "range": [131, 631], "nice": false, "zero": false},
          "axis": {"orient": "bottom", "offset": -78, "values": [6200, 6400, 6600, 6800, 7000, 7200, 7400, 7600, 7800, 8000], "format": "d", "ticks": true, "tickSize": -5, "tickColor": "#8c8c8c", "labelFontSize": 14, "labelPadding": 14, "title": "num echantillon", "titleFontSize": 14, "titlePadding": 3, "zindex": 1}
        },
        "y": {
          "field": "v", "type": "quantitative",
          "scale": {"domain": [-0.1465, 0.1634], "range": [915, 522], "nice": false, "zero": false},
          "axis": {"orient": "left", "offset": -131, "values": [-0.1, -0.05, 0, 0.05, 0.1, 0.15], "format": "~g", "ticks": true, "tickSize": -5, "tickColor": "#8c8c8c", "labelFontSize": 14, "labelPadding": 11, "title": "amplitude normalisée", "titleFontSize": 15, "titlePadding": 5, "zindex": 1}
        }
      },
      "layer": [
        {
          "data": {"name": "ecg_window"},
          "mark": {"type": "rect", "fillOpacity": 0, "stroke": "#8c8c8c", "strokeWidth": 1.5},
          "encoding": {"x2": {"field": "t_end"}, "y2": {"field": "v_end"}}
        },
        {
          "data": {"name": "ecg"},
          "mark": {"type": "line", "strokeWidth": 2.4},
          "encoding": {
            "color": {
              "field": "series", "type": "nominal",
              "scale": {"domain": ["signal bruite", "signal sortie Kalman"], "range": ["#2a78b8", "#d9602e"]},
              "legend": {"orient": "none", "legendX": 426, "legendY": 539, "title": null, "symbolType": "M-3,0L3,0", "symbolSize": 300, "symbolOffset": 17, "symbolStrokeWidth": 2.5, "labelOffset": 22, "labelFontSize": 13, "labelFont": "Liberation Sans", "labelColor": "#333333", "strokeColor": "#8c8c8c", "fillColor": "white", "padding": 4, "rowPadding": 1}
            }
          }
        }
      ]
    },
    {
      "encoding": {
        "x": {
          "field": "t", "type": "quantitative",
          "scale": {"domain": [1665.5, 2319], "range": [680, 1438], "nice": false, "zero": false},
          "axis": {"orient": "bottom", "offset": -125, "values": [1800, 2000, 2200], "format": "d", "ticks": true, "tickSize": -10, "tickColor": "#8c8c8c", "tickWidth": 1.5, "labelFontSize": 16, "labelPadding": 21, "title": null, "zindex": 1}
        },
        "y": {
          "field": "v", "type": "quantitative",
          "scale": {"domain": [-1, 1], "range": [868, 630], "nice": false, "zero": false},
          "axis": {"orient": "left", "offset": -680, "values": [-1, -0.5, 0, 0.5, 1], "format": "~g", "ticks": true, "tickSize": -8, "tickColor": "#8c8c8c", "tickWidth": 1.5, "labelFontSize": 16, "labelPadding": 16, "title": "AccZ", "titleFontSize": 19, "titleColor": "#444444", "titlePadding": 8, "zindex": 1}
        }
      },
      "layer": [
        {
          "data": {"name": "heart_panel"},
          "mark": {"type": "rect", "fill": "#f1f1f1"},
          "encoding": {"x2": {"field": "t_end"}, "y2": {"field": "v_end"}}
        },
        {
          "data": {"name": "heart_window"},
          "mark": {"type": "rect", "fill": "white", "stroke": "#9a9a9a", "strokeWidth": 2},
          "encoding": {"x2": {"field": "t_end"}, "y2": {"field": "v_end"}}
        },
        {
          "data": {"name": "heart"},
          "transform": [{"filter": "datum.series === 'filtered'"}],
          "mark": {"type": "line", "color": "#ef8a5e", "strokeWidth": 2, "interpolate": "monotone"}
        },
        {
          "data": {"name": "heart"},
          "transform": [{"filter": "datum.series === 'raw'"}],
          "mark": {"type": "line", "color": "#4a8cc6", "strokeWidth": 2, "interpolate": "monotone"}
        },
        {
          "data": {"name": "sounds"},
          "transform": [{"filter": "datum.name === 'S1'"}],
          "mark": {"type": "point", "shape": "M0,-1C0.3051,-1,0.5524,-0.5523,0.5524,0C0.5524,0.5523,0.3051,1,0,1C-0.3051,1,-0.5524,0.5523,-0.5524,0C-0.5524,-0.5523,-0.3051,-1,0,-1Z", "size": 44100, "filled": false, "stroke": "#353e60", "strokeWidth": 3, "opacity": 1}
        },
        {
          "data": {"name": "sounds"},
          "transform": [{"filter": "datum.name === 'S2'"}],
          "mark": {"type": "point", "shape": "M0,-1C0.486,-1,0.88,-0.5523,0.88,0C0.88,0.5523,0.486,1,0,1C-0.486,1,-0.88,0.5523,-0.88,0C-0.88,-0.5523,-0.486,-1,0,-1Z", "size": 13689, "filled": false, "stroke": "#353e60", "strokeWidth": 3, "opacity": 1}
        },
        {
          "data": {"name": "label_box"},
          "mark": {"type": "rect", "fill": "white"},
          "encoding": {"x2": {"field": "t_end"}, "y2": {"field": "v_end"}}
        },
        {
          "data": {"name": "sound_labels"},
          "mark": {"type": "text", "font": "Lato", "fontSize": 36, "color": "#111111", "align": "center", "baseline": "middle"},
          "encoding": {"text": {"field": "name"}}
        }
      ]
    }
  ],
  "resolve": {"scale": {"x": "independent", "y": "independent", "color": "independent"}},
  "config": {
    "view": {"stroke": null},
    "font": "Liberation Sans",
    "axis": {"grid": false, "domain": false, "ticks": false, "labelColor": "#555555", "titleColor": "#555555", "titleFontWeight": "normal", "labelFont": "Liberation Sans", "titleFont": "Liberation Sans"}
  }
}
